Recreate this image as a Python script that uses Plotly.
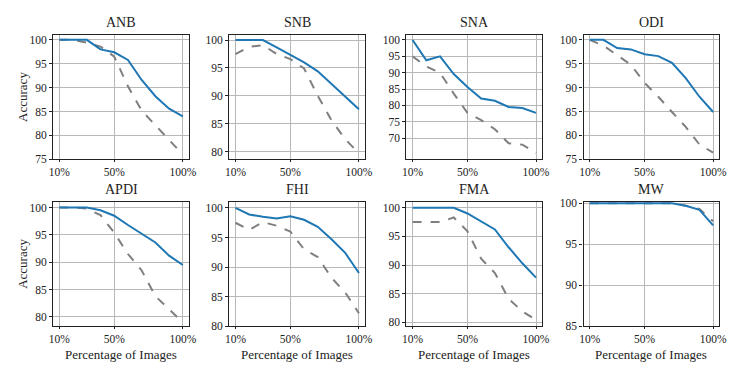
import plotly.graph_objects as go
from plotly.subplots import make_subplots

x_pct = [10, 20, 30, 40, 50, 60, 70, 80, 90, 100]
x_tick_vals = [10, 50, 100]
x_tick_text = ["10%", "50%", "100%"]

titles = ["ANB", "SNB", "SNA", "ODI", "APDI", "FHI", "FMA", "MW"]

anb_solid = [100, 100, 100, 98.0, 97.4, 95.8, 91.6, 88.2, 85.6, 84.0]
anb_dash = [100, 100, 99.4, 98.6, 96.5, 90.3, 85.2, 82.2, 79.1, 76.0]
snb_solid = [100, 100, 100, 98.7, 97.4, 96.0, 94.4, 92.1, 89.8, 87.6]
snb_dash = [97.5, 98.8, 99.1, 97.5, 96.6, 94.9, 90.0, 85.6, 82.2, 79.7]
sna_solid = [100, 93.8, 95.0, 89.6, 85.6, 82.1, 81.4, 79.5, 79.2, 77.7]
sna_dash = [95.0, 91.9, 90.0, 83.6, 77.7, 75.5, 72.7, 68.4, 68.0, 65.4]
odi_solid = [100, 100, 98.3, 98.0, 97.0, 96.6, 95.2, 92.0, 88.1, 84.9]
odi_dash = [100, 98.8, 96.8, 94.8, 91.0, 88.1, 84.9, 81.8, 78.1, 76.4]
apdi_solid = [100, 100, 100, 99.5, 98.5, 96.8, 95.2, 93.6, 91.2, 89.5]
apdi_dash = [100, 100, 99.8, 98.6, 95.4, 91.5, 88.5, 83.8, 81.4, 79.0]
fhi_solid = [100, 98.9, 98.5, 98.2, 98.6, 98.0, 96.8, 94.7, 92.4, 89.0]
fhi_dash = [97.5, 96.3, 97.6, 97.0, 96.0, 93.0, 91.7, 88.2, 85.7, 82.2]
fma_solid = [100, 100, 100, 100, 99.0, 97.6, 96.2, 93.1, 90.3, 87.8]
fma_dash = [97.5, 97.5, 97.5, 98.3, 95.9, 91.1, 88.6, 84.1, 81.9, 80.4]
mw_solid = [100, 100, 100, 100, 100, 100, 100, 99.7, 99.2, 97.3]
mw_dash = [100, 100, 100, 100, 100, 100, 100, 99.7, 99.3, 97.8]

solid_series = [anb_solid, snb_solid, sna_solid, odi_solid,
                apdi_solid, fhi_solid, fma_solid, mw_solid]
dash_series = [anb_dash, snb_dash, sna_dash, odi_dash,
               apdi_dash, fhi_dash, fma_dash, mw_dash]

y_ticks = [
    [75, 80, 85, 90, 95, 100],
    [80, 85, 90, 95, 100],
    [70, 75, 80, 85, 90, 95, 100],
    [75, 80, 85, 90, 95, 100],
    [80, 85, 90, 95, 100],
    [80, 85, 90, 95, 100],
    [80, 85, 90, 95, 100],
    [85, 90, 95, 100],
]
y_ranges = [
    [75, 101], [78.6, 100.9], [63.5, 101.5], [75, 101],
    [78.3, 101], [80, 101], [79.3, 101], [85, 100.15],
]

W, H = 747, 374
col_px = [(50, 188), (229, 367), (409, 547), (589, 727)]
row_px = [(31, 159), (203, 331)]

FONT = "Liberation Serif"
BLUE = "#1f77b4"
GRAY = "#7f7f7f"
INK = "#222222"

fig = make_subplots(rows=2, cols=4)

annotations = []
for i in range(8):
    r, c = divmod(i, 4)
    fig.add_trace(go.Scatter(x=x_pct, y=dash_series[i], mode="lines",
                             line=dict(color=GRAY, width=2, dash="dash"),
                             showlegend=False, hoverinfo="skip"),
                  row=r + 1, col=c + 1)
    fig.add_trace(go.Scatter(x=x_pct, y=solid_series[i], mode="lines",
                             line=dict(color=BLUE, width=2),
                             showlegend=False, hoverinfo="skip"),
                  row=r + 1, col=c + 1)
    x0, x1 = col_px[c]
    y0, y1 = row_px[r]
    xd = [x0 / W, x1 / W]
    yd = [1 - y1 / H, 1 - y0 / H]
    fig.update_xaxes(domain=xd, range=[5.5, 104.5], tickvals=x_tick_vals,
                     ticktext=x_tick_text, showgrid=True, gridcolor="#b8b8b8",
                     gridwidth=1, showline=True, linecolor=INK,
                     linewidth=1.3, mirror=True, ticks="outside", ticklen=2,
                     tickcolor=INK, zeroline=False,
                     tickfont=dict(family=FONT, size=11.5, color=INK),
                     row=r + 1, col=c + 1)
    fig.update_yaxes(domain=yd, range=y_ranges[i], tickvals=y_ticks[i],
                     showgrid=True, gridcolor="#b8b8b8", gridwidth=1,
                     showline=True, linecolor=INK, linewidth=1.3,
                     mirror=True, ticks="outside", ticklen=3,
                     tickcolor=INK, zeroline=False,
                     tickfont=dict(family=FONT, size=11.5, color=INK),
                     row=r + 1, col=c + 1)
    annotations.append(dict(text=titles[i], x=(x0 + x1) / 2 / W,
                            y=1 - (y0 - 3) / H, xref="paper", yref="paper",
                            xanchor="center", yanchor="bottom", showarrow=False,
                            font=dict(family=FONT, size=14, color=INK)))
    if r == 1:
        annotations.append(dict(text="Percentage of Images",
                                x=(x0 + x1) / 2 / W, y=1 - 360 / H,
                                xref="paper", yref="paper", xanchor="center",
                                yanchor="middle", showarrow=False, borderpad=0,
                                font=dict(family=FONT, size=13, color=INK)))
    if c == 0:
        annotations.append(dict(text="Accuracy", x=18 / W,
                                y=1 - (y0 + y1) / 2 / H, xref="paper",
                                yref="paper", xanchor="center", yanchor="middle",
                                textangle=-90, showarrow=False,
                                font=dict(family=FONT, size=13, color=INK)))

fig.update_layout(width=W, height=H, margin=dict(l=0, r=0, t=0, b=0),
                  plot_bgcolor="white", paper_bgcolor="white",
                  annotations=annotations, showlegend=False)

fig.write_html("out.html", config={"displayModeBar": False},
               post_script="document.body.style.margin='0';"
                           "document.body.style.overflow='hidden';")
